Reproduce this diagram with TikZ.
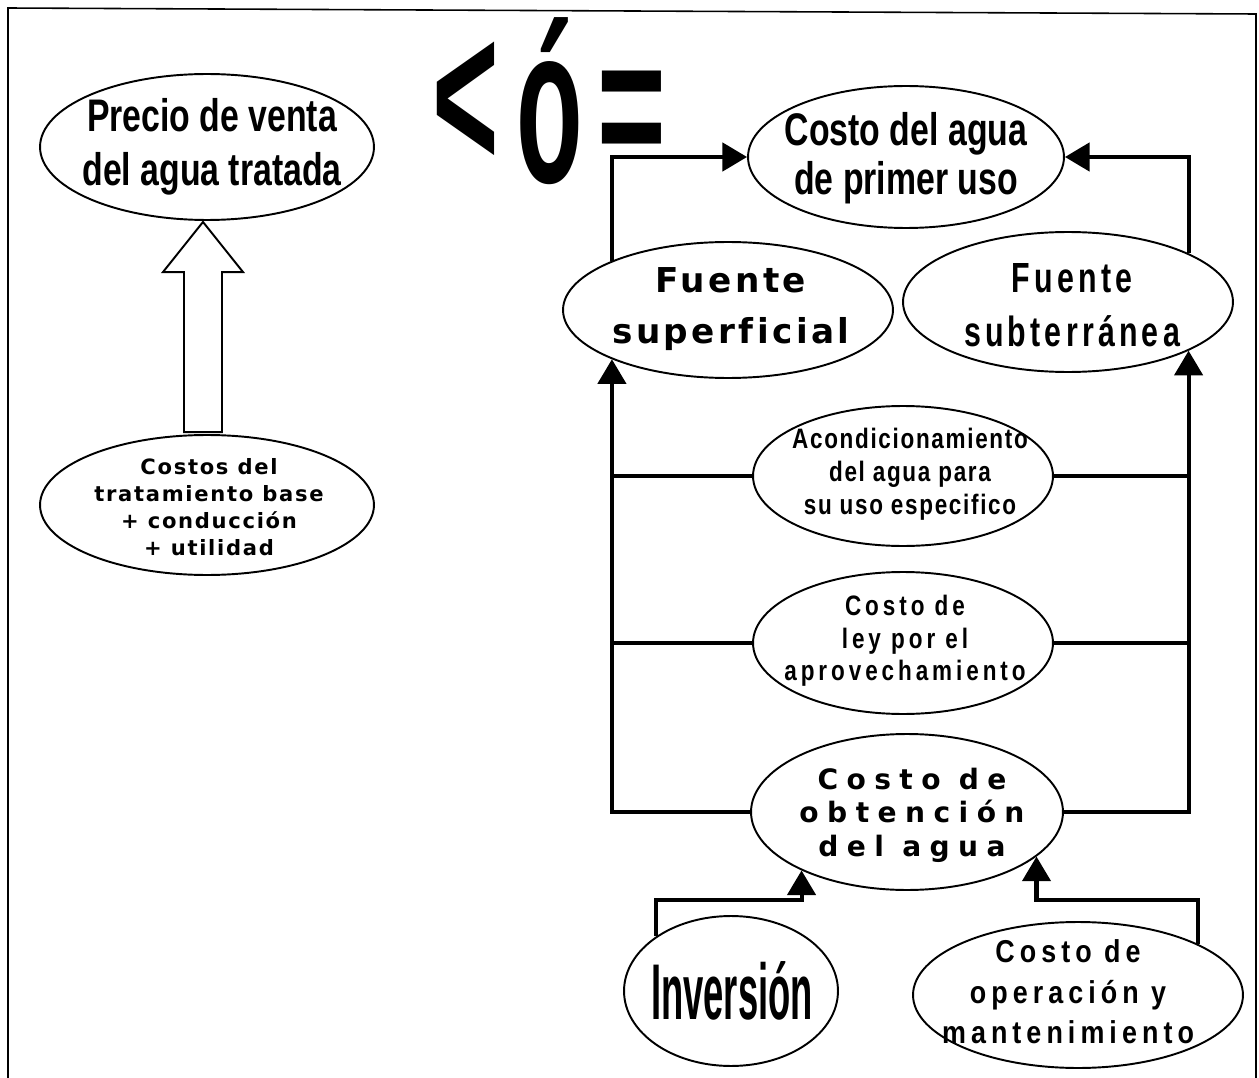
\documentclass[tikz,border=0pt]{standalone}
\usepackage{fontspec}
\usepackage{graphicx}
\setmainfont{Liberation Sans}
\newfontfamily\narrowfont[FakeStretch=0.74,Ligatures=CommonOff]{Liberation Sans}
\newfontfamily\xnarrowfont[FakeStretch=0.46,Ligatures=CommonOff]{Liberation Sans}
\newfontfamily\spacedA[FakeStretch=0.72,LetterSpace=10,Ligatures=CommonOff]{Liberation Sans}
\newfontfamily\spacedF[FakeStretch=0.8,LetterSpace=6,Ligatures=CommonOff]{Liberation Sans}
\newfontfamily\spacedG[FakeStretch=0.8,LetterSpace=14,Ligatures=CommonOff]{Liberation Sans}
\newfontfamily\spacedJ[FakeStretch=0.85,LetterSpace=16,Ligatures=CommonOff]{Liberation Sans}
\newfontfamily\wideD[LetterSpace=10,Ligatures=CommonOff]{DejaVu Sans}
\newfontfamily\wideH[LetterSpace=30,Ligatures=CommonOff]{DejaVu Sans}
\newfontfamily\wideB[LetterSpace=8,Ligatures=CommonOff]{DejaVu Sans}
\usetikzlibrary{shapes.geometric,arrows.meta,calc}
\newcommand\bigsym{\fontsize{100}{100}\selectfont\bfseries}
\tikzset{
  ell/.style={draw, ellipse, line width=1.1pt, inner sep=0pt},
  txt/.style={align=center, inner sep=0pt},
  sym/.style={inner sep=0pt, font=\bigsym},
  conn/.style={line width=2.3pt, line join=miter},
  arr/.style={conn, -{Triangle[length=14pt,width=16pt]}},
  hollow/.style={draw, line width=1.1pt, line join=miter},
  frame/.style={line width=0.9pt},
}
\begin{document}
\begin{tikzpicture}[x=0.02cm, y=-0.02cm]
\useasboundingbox (0,0) rectangle (1259,1078);
% frame
\draw[frame] (8,1078) -- (8,8) -- (1256,14) -- (1256,1078);

% ellipses
\node[ell, minimum width=6.68cm, minimum height=2.92cm] (A) at (207,147) {};
\node[ell, minimum width=6.68cm, minimum height=2.80cm] (B) at (207,505) {};
\node[ell, minimum width=6.32cm, minimum height=2.84cm] (C) at (906,157) {};
\node[ell, minimum width=6.60cm, minimum height=2.72cm] (D) at (728,310) {};
\node[ell, minimum width=6.60cm, minimum height=2.80cm] (E) at (1068,302) {};
\node[ell, minimum width=6.00cm, minimum height=2.80cm] (F) at (903,476) {};
\node[ell, minimum width=6.00cm, minimum height=2.84cm] (G) at (903,643) {};
\node[ell, minimum width=6.24cm, minimum height=3.12cm] (H) at (907,812) {};
\node[ell, minimum width=4.28cm, minimum height=3.00cm] (I) at (731,991) {};
\node[ell, minimum width=6.60cm, minimum height=2.92cm] (J) at (1078,995) {};

% texts
\node[txt, font=\narrowfont\bfseries\fontsize{26}{31}\selectfont] (At) at (212,147) {Precio de venta\\del agua tratada};
\node[txt, font=\wideB\bfseries\fontsize{12}{15.3}\selectfont] (Bt) at (209,507) {Costos del\\tratamiento base\\+ conducción\\+ utilidad};
\node[txt, font=\narrowfont\bfseries\fontsize{26}{28}\selectfont] (Ct) at (906,158) {Costo del agua\\de primer uso};
\node[txt, font=\wideD\bfseries\fontsize{19.5}{29.5}\selectfont] (Dt) at (731,309) {Fuente\\superficial};
\node[txt, font=\spacedA\bfseries\fontsize{24}{31}\selectfont] (Et) at (1072,305) {Fuente\\subterránea};
\node[txt, font=\spacedF\bfseries\fontsize{16}{18.7}\selectfont] (Ft) at (910,474) {Acondicionamiento\\del agua para\\su uso especifico};
\node[txt, font=\spacedG\bfseries\fontsize{16}{18.4}\selectfont] (Gt) at (905,641) {Costo de\\ley por el\\aprovechamiento};
\node[txt, font=\wideH\bfseries\fontsize{16}{19}\selectfont] (Ht) at (912,815) {Costo de\\obtención\\del agua};
\node[txt, font=\xnarrowfont\bfseries\fontsize{45}{45}\selectfont] (It) at (732,991) {Inversión};
\node[txt, font=\spacedJ\bfseries\fontsize{18}{23}\selectfont] (Jt) at (1068,992) {Costo de\\operación y\\mantenimiento};

% big symbols
\node[sym, anchor=base] (lt) at (466,169) {\scalebox{0.65}[1.2]{<}};
\node[sym, anchor=base] (oo) at (550,183) {\scalebox{0.62}[1.28]{ó}};
\node[sym, anchor=base] (eq) at (632,172) {\scalebox{0.67}[1.1]{=}};

% hollow arrow
\draw[hollow] ($(B.north)+(-23,-2)$) -- ++(0,-160) -- ++(-21,0)
  -- ($(A.south)+(-4,1)$) -- ($(B.north)+(36,-162)$) -- ++(-21,0) -- ++(0,160) -- cycle;

% connectors
\draw[arr] (D.157) |- (C.west);
\draw[arr] (E.22) |- (C.east);
\draw[arr] (H.west) -| (D.203);
\draw[arr] (H.east) -| (E.338);
\draw[conn] (F.west) -- (F.west -| D.203);
\draw[conn] (F.east) -- (F.east -| E.338);
\draw[conn] (G.west) -- (G.west -| D.203);
\draw[conn] (G.east) -- (G.east -| E.338);
\draw[arr] (I.144) |- ([yshift=-0.6cm]H.209) -- (H.209);
\draw[arr] (J.23) |- ([yshift=-0.86cm]H.341) -- (H.341);
\end{tikzpicture}
\end{document}
